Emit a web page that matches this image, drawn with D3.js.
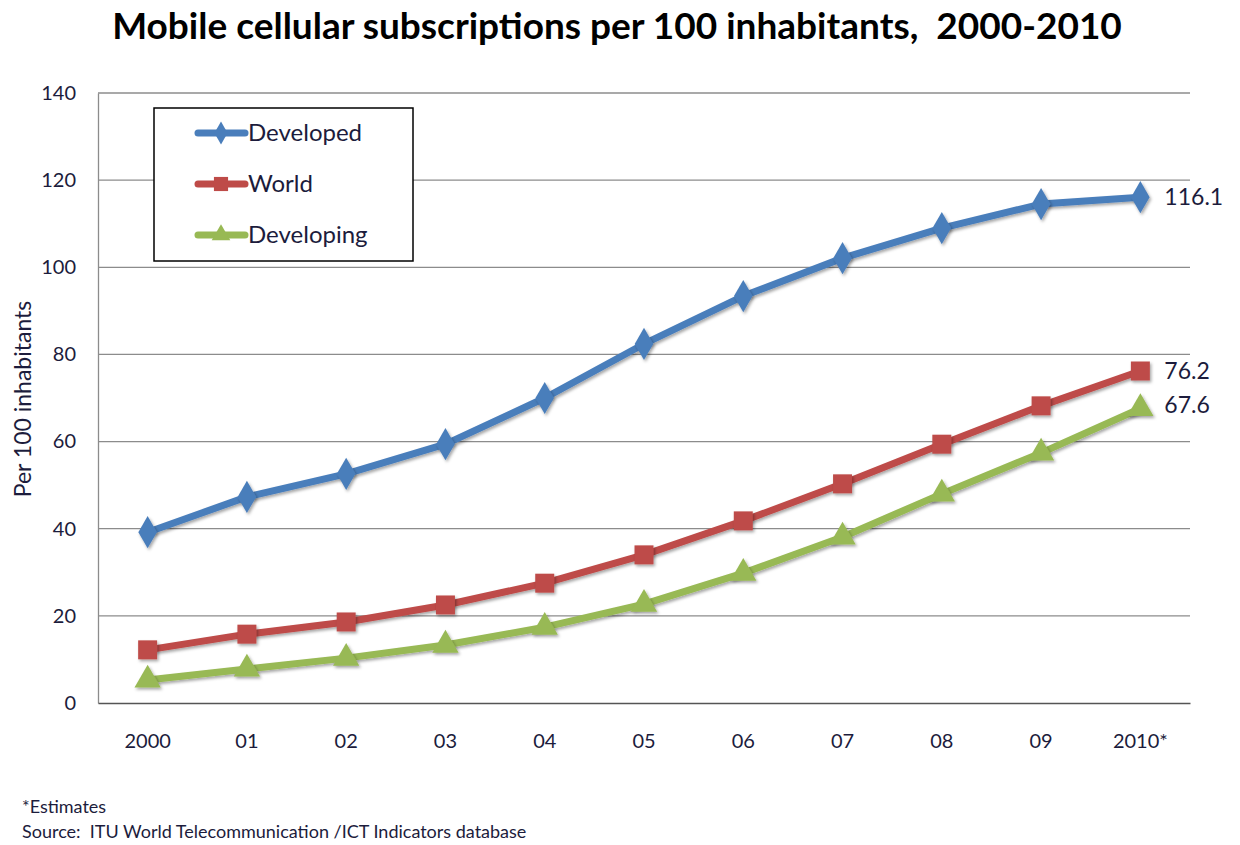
<!DOCTYPE html>
<html>
<head>
<meta charset="utf-8">
<script src="https://cdn.jsdelivr.net/npm/d3@7"></script>
<style>
  body { margin: 0; background: #fff; }
  text { font-family: Lato, "Open Sans", sans-serif; white-space: pre; }
</style>
</head>
<body>
<div id="chart"></div>
<script>
// chart data
const years = ["2000", "01", "02", "03", "04", "05", "06", "07", "08", "09", "2010*"];
const developed  = [39.2, 47.3, 52.6, 59.4, 70.0, 82.4, 93.4, 102.1, 109.0, 114.5, 116.1];
const world      = [12.2, 15.8, 18.6, 22.5, 27.5, 34.0, 41.8, 50.3, 59.4, 68.2, 76.2];
const developing = [5.3, 7.8, 10.3, 13.3, 17.4, 22.7, 29.8, 38.1, 48.0, 57.4, 67.6];
const yTicks = [0, 20, 40, 60, 80, 100, 120, 140];

const seriesNames = ["Developed", "World", "Developing"];
const seriesColors = ["#4a7ebb", "#be4b48", "#98b954"];
const seriesShapes = [d3.symbolDiamond, d3.symbolSquare, d3.symbolTriangle];
const seriesValues = [developed, world, developing];

const width = 1240, height = 845;
const margin = {top: 93, right: 50, bottom: 142, left: 98};
const innerW = width - margin.left - margin.right;
const innerH = height - margin.top - margin.bottom;
const textColor = "#1c1c3c";

const svg = d3.select("#chart").append("svg")
    .attr("width", width)
    .attr("height", height);

// soft shadow under the lines and markers
const filter = svg.append("defs").append("filter").attr("id", "shadow")
    .attr("x", "-50%").attr("y", "-50%").attr("width", "200%").attr("height", "200%");
filter.append("feDropShadow").attr("dx", 1.5).attr("dy", 2).attr("stdDeviation", 1.5)
    .attr("flood-color", "#000").attr("flood-opacity", 0.35);

// title
svg.append("text")
    .attr("x", 617).attr("y", 39)
    .attr("text-anchor", "middle")
    .style("font-size", "37px").style("font-weight", "bold").style("fill", "#000")
    .text("Mobile cellular subscriptions per 100 inhabitants,  2000-2010");

const g = svg.append("g").attr("transform", `translate(${margin.left},${margin.top})`);

const x = d3.scaleBand().domain(years).range([0, innerW]);
const y = d3.scaleLinear().domain([0, 140]).range([innerH, 0]);

// gridlines
g.append("g").selectAll("line")
    .data(yTicks.filter(t => t > 0))
    .enter().append("line")
    .attr("x1", 0).attr("x2", innerW)
    .attr("y1", d => y(d)).attr("y2", d => y(d))
    .attr("stroke", "#8c8c8c").attr("stroke-width", 1.3);

// y axis
const yAxis = g.append("g")
    .call(d3.axisLeft(y).tickValues(yTicks).tickSize(0).tickPadding(22));
yAxis.select(".domain").attr("stroke", "#8c8c8c").attr("stroke-width", 1.3);
yAxis.selectAll("text").style("font-size", "20px").style("fill", textColor)
    .style("font-family", "Lato, sans-serif");

// x axis
const xAxis = g.append("g")
    .attr("transform", `translate(0,${innerH})`)
    .call(d3.axisBottom(x).tickSize(0).tickPadding(31));
xAxis.select(".domain").attr("stroke", "#555").attr("stroke-width", 1.5);
xAxis.selectAll("text").style("font-size", "20px").style("fill", textColor)
    .style("font-family", "Lato, sans-serif");

// y axis label
svg.append("text")
    .attr("transform", "translate(31,399) rotate(-90)")
    .attr("text-anchor", "middle")
    .style("font-size", "23px").style("fill", textColor)
    .text("Per 100 inhabitants");

const cx = (i) => x(years[i]) + x.bandwidth() / 2;

const line = d3.line()
    .x((d, i) => cx(i))
    .y(d => y(d));

seriesValues.forEach((vals, s) => {
    g.append("path")
        .datum(vals)
        .attr("d", line)
        .attr("fill", "none")
        .attr("stroke", seriesColors[s])
        .attr("stroke-width", 7)
        .attr("stroke-linejoin", "round")
        .attr("filter", "url(#shadow)");

    g.append("g").selectAll("path")
        .data(vals)
        .enter().append("path")
        .attr("transform", (d, i) => `translate(${cx(i)},${y(d)})`)
        .attr("d", d3.symbol().type(seriesShapes[s]).size(s === 1 ? 360 : 300))
        .attr("fill", seriesColors[s])
        .attr("filter", "url(#shadow)");

    // last value label
    const last = vals.length - 1;
    g.append("text")
        .attr("x", cx(last) + 24)
        .attr("y", y(vals[last]) + (s === 2 ? -4 : 0))
        .attr("dy", "0.35em")
        .style("font-size", "23px").style("fill", textColor)
        .text(vals[last].toFixed(1));
});

// legend box
const legend = svg.append("g");
legend.append("rect")
    .attr("x", 154).attr("y", 108).attr("width", 259).attr("height", 153)
    .attr("fill", "#fff").attr("stroke", "#000").attr("stroke-width", 1.5);

seriesNames.forEach((name, s) => {
    const ly = 133 + s * 51;
    legend.append("line")
        .attr("x1", 198).attr("x2", 245).attr("y1", ly).attr("y2", ly)
        .attr("stroke", seriesColors[s]).attr("stroke-width", 7).attr("stroke-linecap", "round");
    legend.append("path")
        .attr("transform", `translate(221,${ly})`)
        .attr("d", d3.symbol().type(seriesShapes[s]).size(s === 1 ? 200 : 150))
        .attr("fill", seriesColors[s]);
    legend.append("text")
        .attr("x", 248).attr("y", ly).attr("dy", "0.35em")
        .style("font-size", "24px").style("fill", textColor)
        .text(name);
});

// footnotes
svg.append("text")
    .attr("x", 22).attr("y", 813)
    .style("font-size", "18px").style("fill", textColor)
    .text("*Estimates");
svg.append("text")
    .attr("x", 22).attr("y", 838)
    .style("font-size", "18px").style("fill", textColor)
    .text("Source:  ITU World Telecommunication /ICT Indicators database");
</script>
</body>
</html>
